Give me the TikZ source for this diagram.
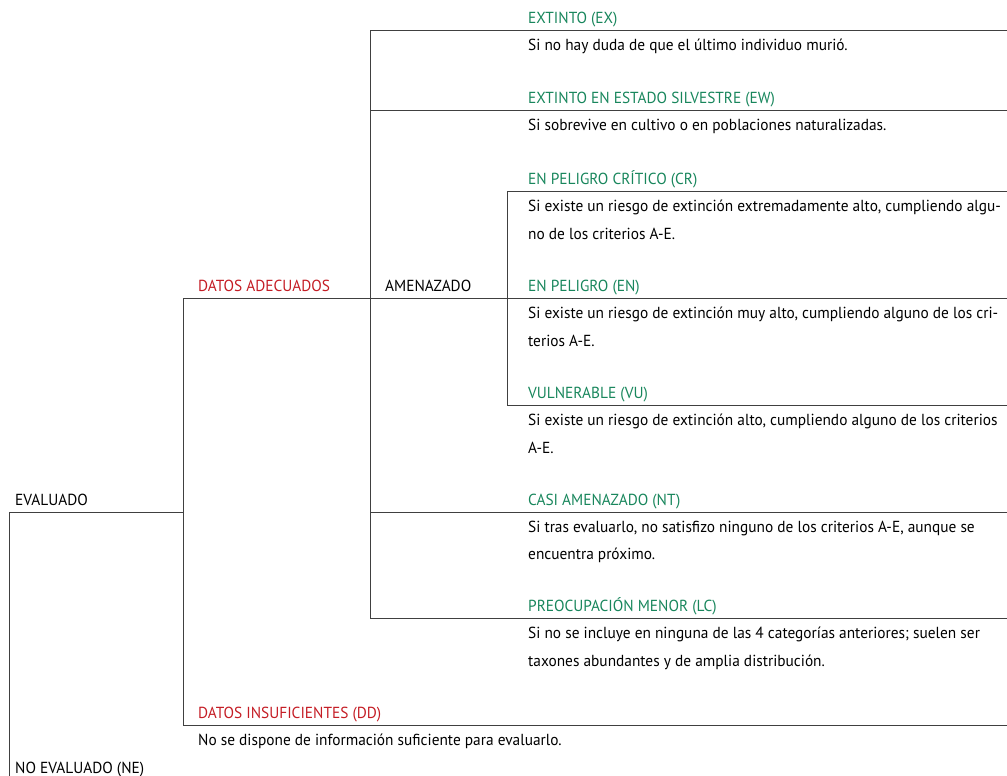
\documentclass[tikz,border=0pt]{standalone}
\usepackage{fontspec}
\setmainfont[FakeStretch=0.96]{PT Sans}
\definecolor{verde}{RGB}{24,134,92}
\definecolor{rojo}{RGB}{196,28,36}
\tikzstyle{rama} = [draw,line width=1pt,black!75]
\tikzstyle{etiqueta} = [anchor=base west,inner sep=0pt]
\tikzstyle{categoria} = [etiqueta,text=verde]
\tikzstyle{nivel} = [etiqueta,text=rojo]
\begin{document}
\begin{tikzpicture}[x=1pt,y=-1pt,font=\fontsize{16}{19}\selectfont]
\useasboundingbox (0,0) rectangle (1007,776);
% ramas izquierdas
\node[etiqueta] (eval) at (15,505) {EVALUADO};
\node[etiqueta] (noev) at (15,773) {NO EVALUADO (NE)};
\node[nivel] (adec) at (198,291) {DATOS ADECUADOS};
\node[nivel] (dd) at (198,718) {DATOS INSUFICIENTES (DD)};
\node[etiqueta] (dd1) at (198,745) {No se dispone de información suficiente para evaluarlo.};
\node[etiqueta] (amen) at (385,291) {AMENAZADO};
% categorias
\foreach \y/\name/\texto in {24/ex/{EXTINTO (EX)}, 103/ew/{EXTINTO EN ESTADO SILVESTRE (EW)},
                             184/cr/{EN PELIGRO CRÍTICO (CR)}, 291/en/{EN PELIGRO (EN)},
                             398/vu/{VULNERABLE (VU)}, 505/nt/{CASI AMENAZADO (NT)},
                             611/lc/{PREOCUPACIÓN MENOR (LC)}}{
  \node[categoria] (\name) at (528,\y) {\texto};
}
\foreach \y/\name/\texto in {51/ex1/{Si no hay duda de que el último individuo murió.},
                             130/ew1/{Si sobrevive en cultivo o en poblaciones naturalizadas.},
                             211/cr1/{Si existe un riesgo de extinción extremadamente alto, cumpliendo algu-},
                             239/cr2/{no de los criterios A-E.},
                             318/en1/{Si existe un riesgo de extinción muy alto, cumpliendo alguno de los cri-},
                             346/en2/{terios A-E.},
                             425/vu1/{Si existe un riesgo de extinción alto, cumpliendo alguno de los criterios},
                             453/vu2/{A-E.},
                             532/nt1/{Si tras evaluarlo, no satisfizo ninguno de los criterios A-E, aunque se},
                             559/nt2/{encuentra próximo.},
                             638/lc1/{Si no se incluye en ninguna de las 4 categorías anteriores; suelen ser},
                             666/lc2/{taxones abundantes y de amplia distribución.}}{
  \node[etiqueta] (\name) at (528,\y) {\texto};
}
% esquinas
\coordinate (ev-l) at (9,512);
\coordinate (ev-r) at (183,512);
\coordinate (ne-l) at (9,776);
\foreach \x/\y/\name in {183/298/adec, 183/725/dd, 370/31/ex, 370/110/ew, 507/191/cr,
                         507/405/vu, 370/512/nt, 370/618/lc}{
  \coordinate (\name-l) at (\x,\y);
  \coordinate (\name-r) at (1007,\y);
  \path[rama] (\name-l) -- (\name-r);
}
\path[rama] (ne-l) -- (ev-l) -- (ev-r);
\path[rama] (adec-l) -- (dd-l);
\path[rama] (ex-l) -- (lc-l);
\path[rama] (cr-l) -- (vu-l);
\end{tikzpicture}
\end{document}
